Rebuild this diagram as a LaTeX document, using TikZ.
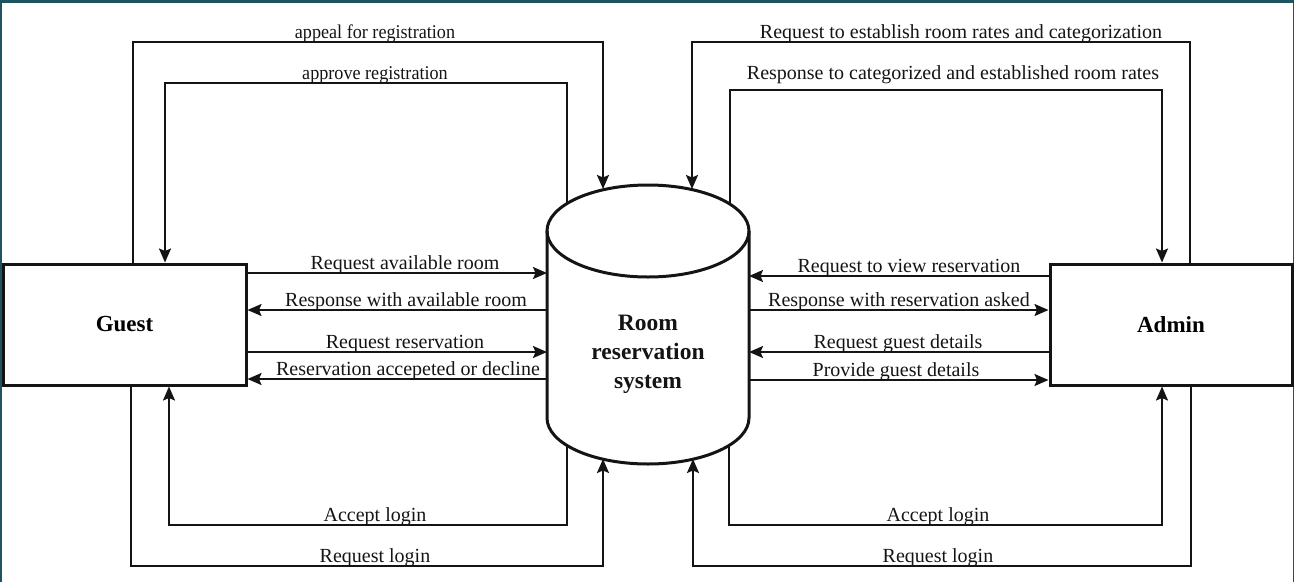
\documentclass[tikz,border=0pt]{standalone}
\usepackage{fontspec}
\setmainfont{Liberation Serif}
\usetikzlibrary{arrows.meta}
\definecolor{framecol}{HTML}{1E5360}
\definecolor{ink}{HTML}{141414}
\begin{document}
\begin{tikzpicture}[x=1pt,y=-1pt,
  ent/.style={draw=ink, line width=3pt, minimum width=243pt, minimum height=121pt, inner sep=0pt, font=\fontsize{23}{29}\selectfont\bfseries},
  flow/.style={draw=ink, line width=2pt, -{Stealth[length=14pt,width=12pt,inset=2.5pt]}},
  lbl/.style={anchor=base, inner sep=0pt, text=ink, font=\fontsize{20}{22}\selectfont},
  lblsmall/.style={lbl, font=\fontsize{19.5}{22}\selectfont, xscale=0.93},
  sysbody/.style={draw=ink, line width=3pt}
]
\useasboundingbox (0,0) rectangle (1294,582);
% frame
\fill[framecol] (0,0) rectangle (1294,2.5);
\fill[framecol] (0,0) rectangle (1.5,582);
\fill[framecol] (1292.5,0) rectangle (1294,582);

% entities
\node[ent] (guest) at (124.5,324.5) {Guest};
\node[ent, minimum width=242pt] (admin) at (1171,324.5) {Admin};

% cylinder
\draw[sysbody] (547,231) -- (547,418) arc[start angle=180, end angle=360, x radius=101pt, y radius=46pt] -- (749,231);
\draw[sysbody] (648,231) ellipse [x radius=101pt, y radius=46pt];
\node[align=center, inner sep=0pt, text=ink, font=\fontsize{23.5}{29}\selectfont\bfseries] (sys) at (648,354) {Room\\reservation\\system};

% top loops
\draw[flow] (133,0 |- guest.north) |- (603,42) -- (603,189);
\draw[flow] (567,204) |- (165,83) -- (165,0 |- guest.north);
\draw[flow] (1190,0 |- admin.north) |- (692,42) -- (692,189);
\draw[flow] (730,204) |- (1162,90) -- (1162,0 |- admin.north);
% bottom loops
\draw[flow] (567,445) |- (169,525) -- (169,0 |- guest.south);
\draw[flow] (131,0 |- guest.south) |- (603,566) -- (603,459);
\draw[flow] (729,445) |- (1162,525) -- (1162,0 |- admin.south);
\draw[flow] (1191,0 |- admin.south) |- (693,566) -- (693,459);
% horizontal flows
\draw[flow] (guest.east |- 0,273) -- (547,273);
\draw[flow] (547,310) -- (guest.east |- 0,310);
\draw[flow] (guest.east |- 0,352) -- (547,352);
\draw[flow] (547,379) -- (guest.east |- 0,379);
\draw[flow] (admin.west |- 0,276) -- (749,276);
\draw[flow] (749,310) -- (admin.west |- 0,310);
\draw[flow] (admin.west |- 0,352) -- (749,352);
\draw[flow] (749,380) -- (admin.west |- 0,380);

% labels
\node[lblsmall] (t1) at (375,38) {appeal for registration};
\node[lblsmall] (t2) at (375,79) {approve registration};
\node[lbl] (t3) at (961,38) {Request to establish room rates and categorization};
\node[lbl] (t4) at (953,79) {Response to categorized and established room rates};
\node[lbl] (h1) at (405,269) {Request available room};
\node[lbl] (h2) at (406,306) {Response with available room};
\node[lbl] (h3) at (405,348) {Request reservation};
\node[lbl] (h4) at (408,375) {Reservation accepeted or decline};
\node[lbl] (h5) at (909,272) {Request to view reservation};
\node[lbl] (h6) at (899,306) {Response with reservation asked};
\node[lbl] (h7) at (898,348) {Request guest details};
\node[lbl] (h8) at (896,376) {Provide guest details};
\node[lbl] (b1) at (375,521) {Accept login};
\node[lbl] (b2) at (375,562) {Request login};
\node[lbl] (b3) at (938,521) {Accept login};
\node[lbl] (b4) at (938,562) {Request login};
\end{tikzpicture}
\end{document}
